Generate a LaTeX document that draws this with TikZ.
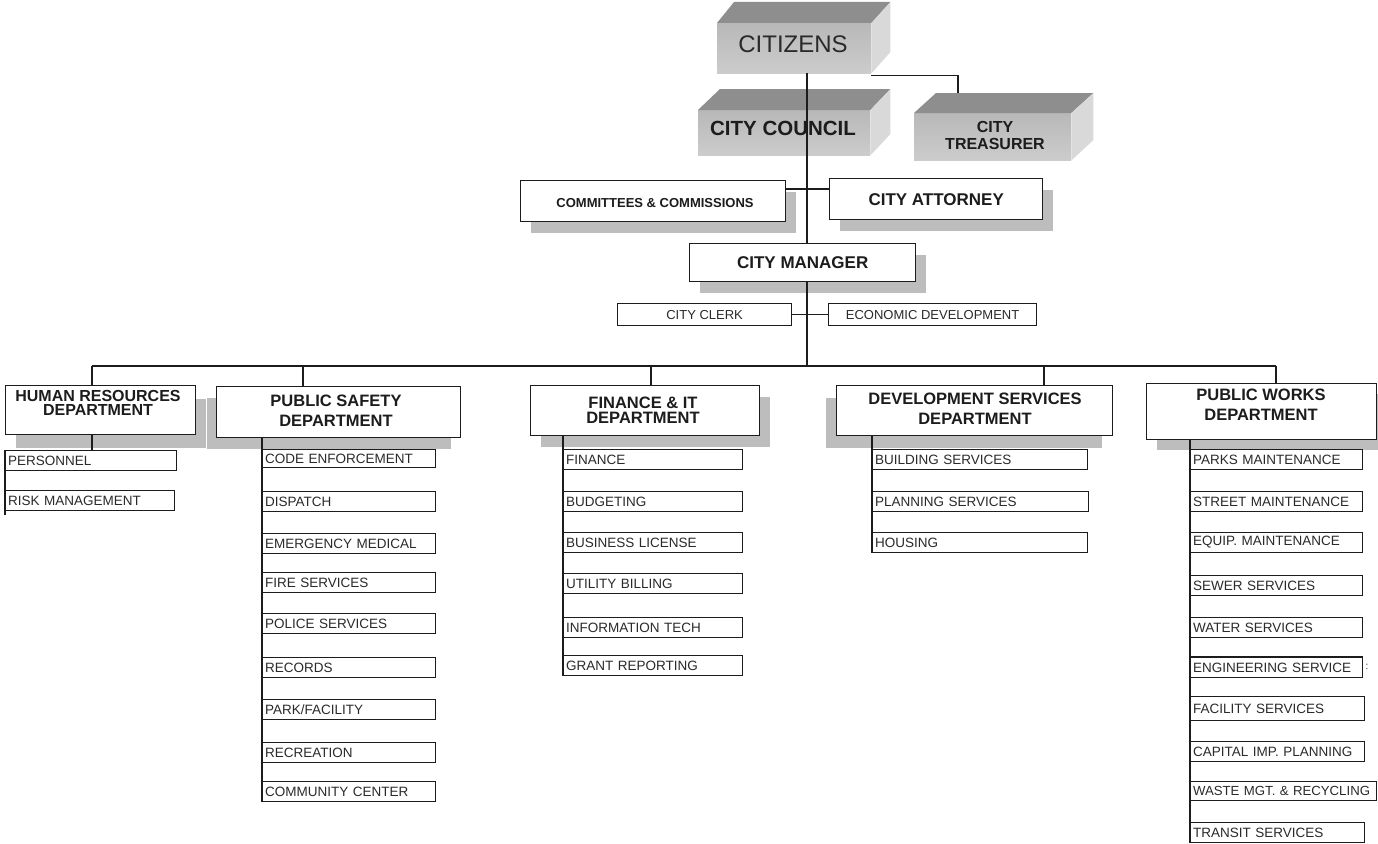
\documentclass[tikz,border=0pt]{standalone}
\usepackage{fontspec}
\setmainfont{Liberation Sans}
\usetikzlibrary{shadows}
\definecolor{ink}{HTML}{1C1C1C}
\definecolor{txt}{HTML}{2A2A2A}
\definecolor{shade}{HTML}{BDBDBD}
\definecolor{topf}{HTML}{8E8E8E}
\definecolor{frontA}{HTML}{B8B8B8}
\definecolor{frontB}{HTML}{CCCCCC}
\definecolor{sidef}{HTML}{D9D9D9}
\newcommand\setfs[2]{\fontsize{#1}{#2}\selectfont}
\begin{document}
\begin{tikzpicture}[x=1pt,y=-1pt,
  conn/.style={draw=ink, line width=1.2pt},
  hbox/.style={draw=ink, line width=1.4pt, fill=white, anchor=north west, inner sep=0pt},
  shR/.style={drop shadow={shadow xshift=10pt, shadow yshift=-11pt, fill=shade, opacity=1}},
  shL/.style={drop shadow={shadow xshift=-10pt, shadow yshift=-11pt, fill=shade, opacity=1}},
  sub/.style={draw=ink, line width=1.1pt, fill=white, anchor=north west, inner xsep=2.5pt, inner ysep=0pt, minimum height=20pt, align=left, font=\setfs{13.5}{15}, text=txt},
  hdr/.style={font=\bfseries\setfs{16.5}{#1}, align=center, text=ink, inner sep=0pt},
  hdr/.default=15,
  front/.style={anchor=north west, inner sep=0pt, top color=frontA, bottom color=frontB, draw=none},
  topface/.style={fill=topf},
  sideface/.style={fill=sidef},
  mid/.style={font=\bfseries\setfs{#1}{#1}, text=ink, inner sep=0pt},
  small/.style={font=\setfs{13}{13}, text=txt, inner sep=0pt}
]
\useasboundingbox[fill=white] (0,0) rectangle (1378,843);

% ---------- 3D boxes ----------
\node[front, minimum width=154pt, minimum height=50pt] (citizens) at (717,23) {};
\fill[topface] (citizens.north west) -- ++(17,-21) -- ([shift={(19,-21)}]citizens.north east) -- (citizens.north east) -- cycle;
\fill[sideface] (citizens.north east) -- ++(19,-21) -- ++(0,50) -- (citizens.south east) -- cycle;
\node[font=\setfs{24}{24}, text=txt, inner sep=0pt] (citizenst) at (793,44) {CITIZENS};

\node[front, minimum width=172pt, minimum height=45pt] (council) at (698,110) {};
\fill[topface] (council.north west) -- ++(22,-21) -- ([shift={(20,-21)}]council.north east) -- (council.north east) -- cycle;
\fill[sideface] (council.north east) -- ++(20,-21) -- ++(0,45) -- (council.south east) -- cycle;

\node[front, minimum width=157pt, minimum height=47pt] (treasurer) at (914,113) {};
\fill[topface] (treasurer.north west) -- ++(22,-20) -- ([shift={(22,-20)}]treasurer.north east) -- (treasurer.north east) -- cycle;
\fill[sideface] (treasurer.north east) -- ++(22,-20) -- ++(0,47) -- (treasurer.south east) -- cycle;
\node[mid=16, align=center, font=\bfseries\setfs{16}{17}] (treasurert) at (995,135.5) {CITY\\TREASURER};

\coordinate (trunk) at (807,0);
\coordinate (trtop) at (958,93);
\coordinate (hl) at (0,189);
\coordinate (bus) at (0,366);
\coordinate (d1) at (92,0);
\coordinate (d2) at (303,0);
\coordinate (d3) at (651,0);
\coordinate (d4) at (1044,0);
\coordinate (d5) at (1276,0);

% ---------- upper boxes ----------
\node[hbox, shR, minimum width=265pt, minimum height=41pt] (committees) at (520,180) {};
\node[mid=13] (committeest) at (655,203) {COMMITTEES \& COMMISSIONS};
\node[hbox, shR, minimum width=213pt, minimum height=41pt, font=\bfseries\setfs{17}{17}, text=ink] (attorney) at (829,178) {CITY ATTORNEY};
\node[hbox, shR, minimum width=226pt, minimum height=38pt, font=\bfseries\setfs{17}{17}, text=ink] (manager) at (689,243) {CITY MANAGER};
\node[hbox, line width=1.2pt, minimum width=174pt, minimum height=22pt, font=\setfs{13}{13}, text=txt] (clerk) at (617,303) {CITY CLERK};
\node[hbox, line width=1.2pt, minimum width=208pt, minimum height=22pt, font=\setfs{13}{13}, text=txt] (econ) at (828,303) {ECONOMIC DEVELOPMENT};

% ---------- department headers ----------
\node[hbox, drop shadow={shadow xshift=10pt, shadow yshift=-13pt, fill=shade, opacity=1}, minimum width=190pt, minimum height=49pt] (hr) at (5,385) {};
\node[hdr=14.5, font=\bfseries\setfs{16}{14.5}] (hrt) at (98,403) {HUMAN RESOURCES\\DEPARTMENT};
\node[hbox, shL, minimum width=244pt, minimum height=51pt] (ps) at (216,386) {};
\node[hdr=20] (pst) at (336,411) {PUBLIC SAFETY\\DEPARTMENT};
\node[hbox, shR, minimum width=229pt, minimum height=50pt] (fin) at (530,385) {};
\node[hdr=15] (fint) at (643,410) {FINANCE \& IT\\DEPARTMENT};
\node[hbox, drop shadow={shadow xshift=-11pt, shadow yshift=-12pt, fill=shade, opacity=1}, minimum width=276pt, minimum height=50pt] (dev) at (836,385) {};
\node[hdr=20] (devt) at (975,409) {DEVELOPMENT SERVICES\\DEPARTMENT};
\node[hbox, drop shadow={shadow xshift=10pt, shadow yshift=-10pt, fill=shade, opacity=1}, minimum width=230pt, minimum height=56pt] (pw) at (1146,383) {};
\node[hdr=20] (pwt) at (1261,405) {PUBLIC WORKS\\DEPARTMENT};

% ---------- connectors ----------
\draw[conn] (citizens.south -| trunk) -- (manager.north -| trunk);
\draw[conn] ([yshift=-2pt]citizens.south east) -| (trtop);
\node[mid=20.5] (councilt) at (783,128) {CITY COUNCIL};
\draw[conn] (committees.east |- hl) -- (attorney.west |- hl);
\draw[conn] (clerk.east) -- (econ.west);
\draw[conn] (manager.south -| trunk) -- (bus -| trunk);
\draw[conn] (bus -| d1) -- (bus -| d5);
\draw[conn] (bus -| d1) -- (hr.north -| d1);
\draw[conn] (bus -| d2) -- (ps.north -| d2);
\draw[conn] (bus -| d3) -- (fin.north -| d3);
\draw[conn] (bus -| d4) -- (dev.north -| d4);
\draw[conn] (bus -| d5) -- (pw.north -| d5);

% ---------- sub items ----------
\node[sub, text width=166pt] (personnel) at (5,450) {PERSONNEL};
\node[sub, text width=164pt] (risk) at (5,490) {RISK MANAGEMENT};

\node[sub, text width=168pt, minimum height=18pt] (code) at (262,449) {CODE ENFORCEMENT};
\node[sub, text width=168pt] (dispatch) at (262,491) {DISPATCH};
\node[sub, text width=168pt] (emerg) at (262,533) {EMERGENCY MEDICAL};
\node[sub, text width=168pt] (fire) at (262,572) {FIRE SERVICES};
\node[sub, text width=168pt] (police) at (262,613) {POLICE SERVICES};
\node[sub, text width=168pt] (records) at (262,657) {RECORDS};
\node[sub, text width=168pt] (park) at (262,699) {PARK/FACILITY};
\node[sub, text width=168pt] (recreation) at (262,742) {RECREATION};
\node[sub, text width=168pt] (community) at (262,781) {COMMUNITY CENTER};

\node[sub, text width=174pt] (finance) at (563,449) {FINANCE};
\node[sub, text width=174pt] (budget) at (563,491) {BUDGETING};
\node[sub, text width=174pt] (business) at (563,532) {BUSINESS LICENSE};
\node[sub, text width=174pt] (utility) at (563,573) {UTILITY BILLING};
\node[sub, text width=174pt] (infotech) at (563,617) {INFORMATION TECH};
\node[sub, text width=174pt] (grant) at (563,655) {GRANT REPORTING};

\node[sub, text width=210pt] (building) at (872,449) {BUILDING SERVICES};
\node[sub, text width=211pt] (planning) at (872,491) {PLANNING SERVICES};
\node[sub, text width=210pt] (housing) at (872,532) {HOUSING};

\node[sub, text width=167pt] (parks) at (1190,449) {PARKS MAINTENANCE};
\node[sub, text width=167pt] (street) at (1190,491) {STREET MAINTENANCE};
\node[sub, text width=167pt] (equip) at (1190,532) {EQUIP. MAINTENANCE};
\node[sub, text width=167pt] (sewer) at (1190,575) {SEWER SERVICES};
\node[sub, text width=167pt] (water) at (1190,617) {WATER SERVICES};
\node[sub, text width=167pt] (eng) at (1190,657) {ENGINEERING SERVICE};
\draw[draw=ink, line width=2.2pt] (eng.north west) -- (eng.north east);
\node[font=\setfs{10}{10}, text=txt, inner sep=0pt] (engs) at (1367,667) {:};
\node[sub, text width=169pt, minimum height=24pt] (facility) at (1190,696) {FACILITY SERVICES};
\node[sub, text width=169pt] (capital) at (1190,741) {CAPITAL IMP. PLANNING};
\node[sub, text width=181pt, minimum height=19pt, font=\setfs{13.2}{15}] (waste) at (1190,781) {\mbox{WASTE MGT. \& RECYCLING}};
\node[sub, text width=169pt] (transit) at (1190,822) {TRANSIT SERVICES};

% ---------- spines ----------
\draw[conn] (hr.south -| d1) -- (personnel.north -| d1);
\draw[conn] (personnel.north west) -- ([yshift=-4pt]risk.south west);
\draw[conn] (ps.south -| code.west) -- (community.south west);
\draw[conn] (fin.south -| finance.west) -- (grant.south west);
\draw[conn] (dev.south -| building.west) -- (housing.south west);
\draw[conn] (pw.south -| parks.west) -- (transit.south west);
\end{tikzpicture}
\end{document}
